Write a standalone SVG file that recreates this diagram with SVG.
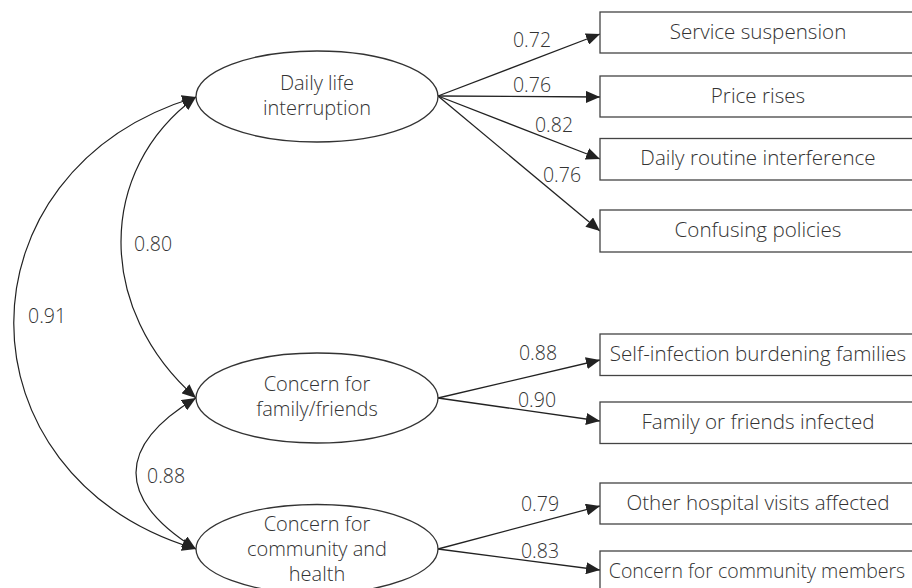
<svg xmlns="http://www.w3.org/2000/svg" width="912" height="588" viewBox="0 0 912 588">
<defs>
<marker id="ah" viewBox="0 0 14 12" refX="14" refY="6" markerWidth="14" markerHeight="12" markerUnits="userSpaceOnUse" orient="auto-start-reverse">
<path d="M0,0 L14,6 L0,12 z" fill="#222"/>
</marker>
<style>
text{font-family:"Open Sans","Liberation Sans",Arial,sans-serif;font-weight:300;font-size:19.5px;fill:#333;}
.c{text-anchor:middle;}
.e{font-size:20px;}
.b{font-size:20.6px;}
.lat{fill:#fff;stroke:#333;stroke-width:1.3;}
.box{fill:#fff;stroke:#444;stroke-width:1.3;}
.arr{fill:none;stroke:#222;stroke-width:1.3;marker-end:url(#ah);}
.cov{fill:none;stroke:#222;stroke-width:1.2;marker-start:url(#ah);marker-end:url(#ah);}
</style>
</defs>
<rect width="912" height="588" fill="#fff"/>
<g id="connectors">
<path class="cov" d="M196,97 C-47,170 -47,476 196,549"/>
<path class="cov" d="M196,97 C96,170 96,310 196,398"/>
<path class="cov" d="M196,398 C116,446 116,499 196,549"/>
<line class="arr" x1="438" y1="96" x2="600" y2="34"/>
<line class="arr" x1="438" y1="96" x2="600" y2="97"/>
<line class="arr" x1="438" y1="96" x2="600" y2="159"/>
<line class="arr" x1="438" y1="96" x2="600" y2="231"/>
<line class="arr" x1="438" y1="398" x2="600" y2="360"/>
<line class="arr" x1="438" y1="398" x2="600" y2="421"/>
<line class="arr" x1="438" y1="549" x2="600" y2="506"/>
<line class="arr" x1="438" y1="549" x2="600" y2="570"/>
<text x="134" y="251">0.80</text>
<text x="28" y="323">0.91</text>
<text x="147" y="483">0.88</text>
<text class="c" x="532" y="47">0.72</text>
<text class="c" x="532" y="92">0.76</text>
<text class="c" x="554" y="132">0.82</text>
<text class="c" x="562" y="182">0.76</text>
<text class="c" x="538" y="360">0.88</text>
<text class="c" x="537" y="407">0.90</text>
<text class="c" x="540" y="511">0.79</text>
<text class="c" x="540" y="558">0.83</text>
</g>
<g id="daily-life">
<ellipse class="lat" cx="317" cy="96.5" rx="121" ry="45.5"/>
<text class="c e" x="317" y="90">Daily life</text>
<text class="c e" x="317" y="115">interruption</text>
</g>
<g id="family-friends">
<ellipse class="lat" cx="317" cy="398" rx="121" ry="45"/>
<text class="c e" x="317" y="391">Concern for</text>
<text class="c e" x="317" y="416">family/friends</text>
</g>
<g id="community-health">
<ellipse class="lat" cx="317" cy="549" rx="121" ry="44.5"/>
<text class="c e" x="317" y="531">Concern for</text>
<text class="c e" x="317" y="556">community and</text>
<text class="c e" x="317" y="581">health</text>
</g>
<g id="service-suspension">
<rect class="box" x="600" y="12" width="320" height="41"/>
<text class="c b" x="758" y="39">Service suspension</text>
</g>
<g id="price-rises">
<rect class="box" x="600" y="76" width="320" height="41"/>
<text class="c b" x="758" y="103">Price rises</text>
</g>
<g id="daily-routine">
<rect class="box" x="600" y="138.5" width="320" height="41.5"/>
<text class="c b" x="758" y="165">Daily routine interference</text>
</g>
<g id="confusing-policies">
<rect class="box" x="600" y="210" width="320" height="42"/>
<text class="c b" x="758" y="237">Confusing policies</text>
</g>
<g id="self-infection">
<rect class="box" x="600" y="334" width="320" height="41.5"/>
<text class="c b" x="758" y="361">Self-infection burdening families</text>
</g>
<g id="family-infected">
<rect class="box" x="600" y="402" width="320" height="41.5"/>
<text class="c b" x="758" y="429">Family or friends infected</text>
</g>
<g id="hospital-visits">
<rect class="box" x="600" y="483" width="320" height="41"/>
<text class="c b" x="758" y="510">Other hospital visits affected</text>
</g>
<g id="community-members">
<rect class="box" x="600" y="551" width="320" height="42"/>
<text class="c" x="757" y="578" font-size="19.8">Concern for community members</text>
</g>
</svg>
